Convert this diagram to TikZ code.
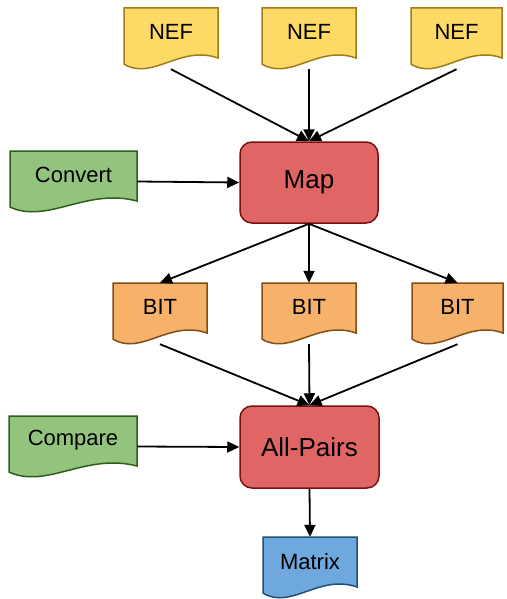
\documentclass[tikz,border=0pt]{standalone}
\usepackage{fontspec}
\setmainfont{Liberation Sans}
\usetikzlibrary{arrows.meta}
\definecolor{yfill}{HTML}{FFD966}\definecolor{ydraw}{HTML}{9C7C1C}
\definecolor{ofill}{HTML}{F6B26B}\definecolor{odraw}{HTML}{7F4F14}
\definecolor{gfill}{HTML}{93C47D}\definecolor{gdraw}{HTML}{2E5E1A}
\definecolor{rfill}{HTML}{E06666}\definecolor{rdraw}{HTML}{7A1010}
\definecolor{bfill}{HTML}{6FA8DC}\definecolor{bdraw}{HTML}{1F4E79}
\tikzset{
  yel/.style={fill=yfill,draw=ydraw,line width=1.5pt},
  ora/.style={fill=ofill,draw=odraw,line width=1.5pt},
  gre/.style={fill=gfill,draw=gdraw,line width=1.5pt},
  blu/.style={fill=bfill,draw=bdraw,line width=1.5pt},
  proc/.style={rectangle,rounded corners=12pt,fill=rfill,draw=rdraw,line width=1.5pt,
    minimum width=138pt,minimum height=81pt,inner sep=0pt,font=\fontsize{26}{30}\selectfont},
  docbox/.style={rectangle,inner sep=0pt,draw=none},
  doctext/.style={inner sep=0pt,font=\fontsize{22}{26}\selectfont},
  conn/.style={line width=1.8pt,-{Triangle[length=12pt,width=11pt]}},
}
\newcommand{\mydocshape}[7]{%
  \path[#7] (#2,#3) -- (#2+#4,#3) -- (#2+#4,#3+0.82*#5)
    .. controls (#2+0.6*#4,#3+0.6*#5) and (#2+0.3*#4,#3+1.2*#5) .. (#2,#3+0.92*#5) -- cycle;
  \node[docbox,minimum width=#4 pt,minimum height=#5 pt] (#1) at (#2+#4/2,#3+#5/2) {};
  \node[doctext] (#1t) at (#2+#4/2,#3+0.4*#5) {#6};
}
\begin{document}
\begin{tikzpicture}[x=1pt,y=-1pt]
\useasboundingbox (0,0) rectangle (506,599);
\mydocshape{nefa}{124}{8}{94}{61}{NEF}{yel}
\mydocshape{nefb}{262}{8}{94}{61}{NEF}{yel}
\mydocshape{nefc}{411}{8}{91}{61}{NEF}{yel}
\mydocshape{conv}{10}{151}{127}{61}{Convert}{gre}
\node[proc] (map) at (309,182.5) {Map};
\mydocshape{bita}{113}{283}{94}{61}{BIT}{ora}
\mydocshape{bitb}{262}{283}{94}{61}{BIT}{ora}
\mydocshape{bitc}{412}{283}{91}{61}{BIT}{ora}
\mydocshape{comp}{9}{416}{128}{61}{Compare}{gre}
\node[proc,minimum width=139pt,minimum height=82pt] (allp) at (309.5,447) {All-Pairs};
\mydocshape{matr}{263}{537}{94}{61}{Matrix}{blu}
\draw[conn] (nefa.south) -- (map.north);
\draw[conn] (nefb.south) -- (map.north);
\draw[conn] (nefc.south) -- (map.north);
\draw[conn] (conv.east) -- (map.west);
\draw[conn] (map.south) -- (bita.north);
\draw[conn] (map.south) -- (bitb.north);
\draw[conn] (map.south) -- (bitc.north);
\draw[conn] (bita.south) -- (allp.north);
\draw[conn] (bitb.south) -- (allp.north);
\draw[conn] (bitc.south) -- (allp.north);
\draw[conn] (comp.east) -- (allp.west);
\draw[conn] (allp.south) -- (matr.north);
\end{tikzpicture}
\end{document}
